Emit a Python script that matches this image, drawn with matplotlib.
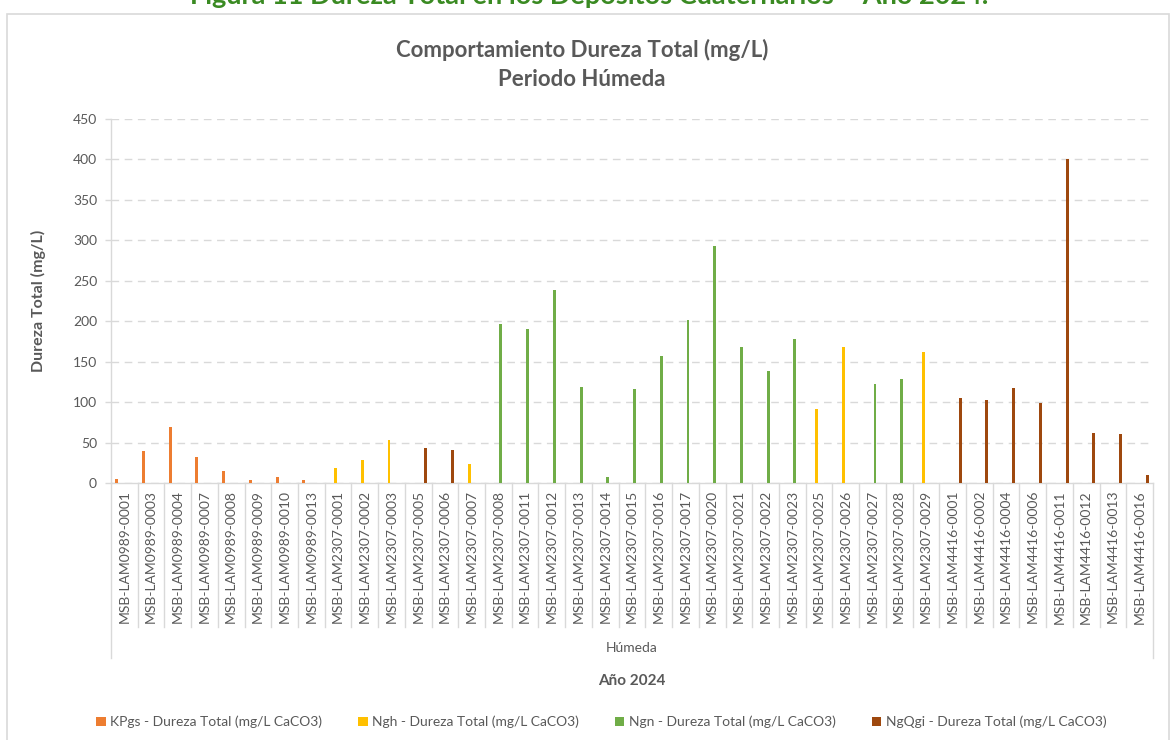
import matplotlib
matplotlib.use("Agg")
import matplotlib.pyplot as plt
from matplotlib.patches import Rectangle, Patch
from matplotlib.lines import Line2D
import matplotlib.transforms as mtransforms

plt.rcParams['font.family'] = ['Lato', 'DejaVu Sans']

categories = [
    "MSB-LAM0989-0001", "MSB-LAM0989-0003", "MSB-LAM0989-0004", "MSB-LAM0989-0007",
    "MSB-LAM0989-0008", "MSB-LAM0989-0009", "MSB-LAM0989-0010", "MSB-LAM0989-0013",
    "MSB-LAM2307-0001", "MSB-LAM2307-0002", "MSB-LAM2307-0003", "MSB-LAM2307-0005",
    "MSB-LAM2307-0006", "MSB-LAM2307-0007", "MSB-LAM2307-0008", "MSB-LAM2307-0011",
    "MSB-LAM2307-0012", "MSB-LAM2307-0013", "MSB-LAM2307-0014", "MSB-LAM2307-0015",
    "MSB-LAM2307-0016", "MSB-LAM2307-0017", "MSB-LAM2307-0020", "MSB-LAM2307-0021",
    "MSB-LAM2307-0022", "MSB-LAM2307-0023", "MSB-LAM2307-0025", "MSB-LAM2307-0026",
    "MSB-LAM2307-0027", "MSB-LAM2307-0028", "MSB-LAM2307-0029", "MSB-LAM4416-0001",
    "MSB-LAM4416-0002", "MSB-LAM4416-0004", "MSB-LAM4416-0006", "MSB-LAM4416-0011",
    "MSB-LAM4416-0012", "MSB-LAM4416-0013", "MSB-LAM4416-0016",
]
unit_of = [
    "KPgs", "KPgs", "KPgs", "KPgs", "KPgs", "KPgs", "KPgs", "KPgs",
    "Ngh", "Ngh", "Ngh", "NgQgi", "NgQgi", "Ngh", "Ngn", "Ngn",
    "Ngn", "Ngn", "Ngn", "Ngn", "Ngn", "Ngn", "Ngn", "Ngn",
    "Ngn", "Ngn", "Ngh", "Ngh", "Ngn", "Ngn", "Ngh", "NgQgi",
    "NgQgi", "NgQgi", "NgQgi", "NgQgi", "NgQgi", "NgQgi", "NgQgi",
]
dureza = [
    5, 39, 69, 32, 15, 4, 8, 4,
    18, 28, 53, 43, 41, 24, 197, 191,
    238, 119, 8, 116, 157, 201, 293, 168,
    138, 178, 92, 168, 122, 129, 162, 105,
    103, 117, 99, 400, 62, 60, 10,
]
series_names = ["KPgs", "Ngh", "Ngn", "NgQgi"]
series_labels = [s + " - Dureza Total (mg/L CaCO3)" for s in series_names]
series_colors = ["#ED7D31", "#FFC000", "#70AD47", "#9E480E"]
y_ticks = [0, 50, 100, 150, 200, 250, 300, 350, 400, 450]

W, H = 1175, 740
fig = plt.figure(figsize=(W / 100, H / 100), dpi=100)

def fx(px):
    return px / W

def fy(py):
    return 1 - py / H

# chart frame
fig.patches.append(Rectangle((fx(7), fy(745)), fx(1169 - 7), fy(14) - fy(745),
                             transform=fig.transFigure, fill=False,
                             edgecolor="#D9D9D9", linewidth=1.2, clip_on=False))

# figure caption (cut off at top, as in the source page)
fig.text(fx(589), fy(4), "Figura 11 Dureza Total en los Depósitos Cuaternarios – Año 2024.",
         ha="center", va="baseline", fontsize=19.5, fontweight="bold", color="#3A8A22")

# chart title
fig.text(fx(582), fy(50), "Comportamiento Dureza Total (mg/L)", ha="center", va="center",
         fontsize=16, fontweight="bold", color="#595959")
fig.text(fx(582), fy(80), "Periodo Húmeda", ha="center", va="center",
         fontsize=16, fontweight="bold", color="#595959")

left, right, top, bottom = 111, 1153, 119, 483
ax = fig.add_axes([fx(left), fy(bottom), fx(right - left), fy(top) - fy(bottom)])

n = len(categories)
width = 0.11
offsets = [-0.285, -0.095, 0.095, 0.285]
for k, name in enumerate(series_names):
    xs = [i + offsets[k] for i in range(n) if unit_of[i] == name]
    hs = [dureza[i] for i in range(n) if unit_of[i] == name]
    ax.bar(xs, hs, width=width, color=series_colors[k], zorder=3)

ax.set_xlim(-0.5, n - 0.5)
ax.set_ylim(0, 450)
ax.set_yticks(y_ticks)
ax.set_yticklabels([str(v) for v in y_ticks])
ax.yaxis.grid(True, linestyle=(0, (5.5, 4)), color="#D9D9D9", linewidth=1.0, zorder=0)
ax.set_axisbelow(True)
for s in ["top", "right"]:
    ax.spines[s].set_visible(False)
for s in ["left", "bottom"]:
    ax.spines[s].set_color("#D9D9D9")
    ax.spines[s].set_linewidth(1.0)
ax.tick_params(axis="y", colors="#D9D9D9", labelcolor="#595959", labelsize=10,
               length=4, width=1, pad=6, direction="out")
ax.set_xticks(range(n))
ax.set_xticklabels(categories, rotation=90, fontsize=10, color="#595959")
ax.tick_params(axis="x", length=0, pad=5)

ax.set_ylabel("Dureza Total (mg/L)", fontsize=11.5, fontweight="bold", color="#595959",
              va="center")
ax.yaxis.set_label_coords(-(left - 38) / (right - left), 0.5)

# multi-level category separators
trans = mtransforms.blended_transform_factory(ax.transData, fig.transFigure)
for i in range(n + 1):
    xb = i - 0.5
    ybot = fy(658) if i in (0, n) else fy(627)
    ax.add_line(Line2D([xb, xb], [fy(bottom), ybot], transform=trans,
                       color="#D9D9D9", linewidth=1.0, clip_on=False))

fig.text(fx((left + right) / 2), fy(648), "Húmeda", ha="center", va="center",
         fontsize=10, color="#595959")
fig.text(fx((left + right) / 2), fy(681), "Año 2024", ha="center", va="center",
         fontsize=11, fontweight="bold", color="#595959")

handles = [Patch(facecolor=c, edgecolor="none") for c in series_colors]
fig.legend(handles, series_labels, loc="center", bbox_to_anchor=(fx(601), fy(722)),
           ncol=4, frameon=False, fontsize=10, labelcolor="#595959",
           handlelength=0.7, handleheight=0.7, handletextpad=0.3, columnspacing=2.6)

fig.savefig("out.png", dpi=100)
